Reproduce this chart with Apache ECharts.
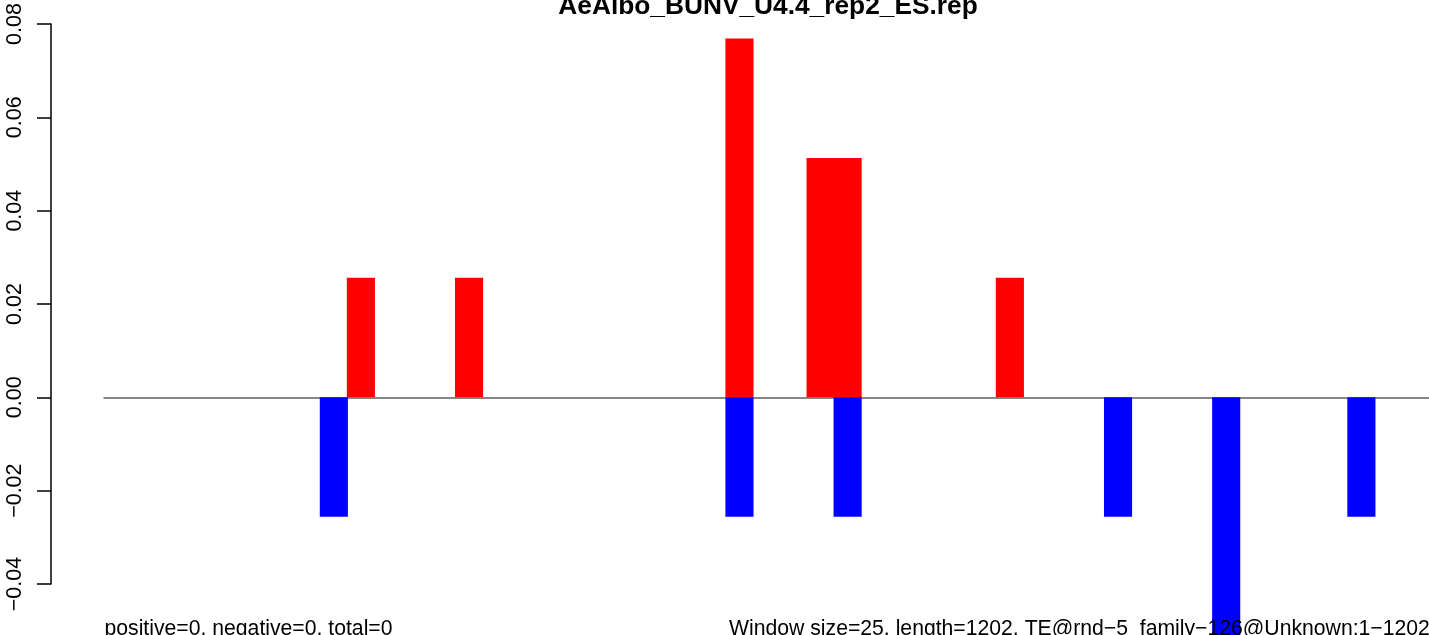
<!DOCTYPE html>
<html>
<head>
<meta charset="utf-8">
<script src="https://cdn.jsdelivr.net/npm/echarts@6/dist/echarts.min.js"></script>
<style>
  html, body { margin: 0; padding: 0; background: #ffffff; }
  #chart { width: 1429px; height: 635px; }
</style>
</head>
<body>
<div id="chart"></div>
<script>
// Window start positions (window size 25 over length 1202)
var categories = [
  0, 25, 50, 75, 100, 125, 150, 175, 200, 225,
  250, 275, 300, 325, 350, 375, 400, 425, 450, 475,
  500, 525, 550, 575, 600, 625, 650, 675, 700, 725,
  750, 775, 800, 825, 850, 875, 900, 925, 950, 975,
  1000, 1025, 1050, 1075, 1100, 1125, 1150, 1175, 1200
];
var positiveValues = [
  0, 0, 0, 0, 0, 0, 0, 0, 0, 0.0256,
  0, 0, 0, 0.0256, 0, 0, 0, 0, 0, 0,
  0, 0, 0, 0.0769, 0, 0, 0.0513, 0.0513, 0, 0,
  0, 0, 0, 0.0256, 0, 0, 0, 0, 0, 0,
  0, 0, 0, 0, 0, 0, 0, 0, 0
];
var negativeValues = [
  0, 0, 0, 0, 0, 0, 0, 0, -0.0256, 0,
  0, 0, 0, 0, 0, 0, 0, 0, 0, 0,
  0, 0, 0, -0.0256, 0, 0, 0, -0.0256, 0, 0,
  0, 0, 0, 0, 0, 0, 0, -0.0256, 0, 0,
  0, -0.0513, 0, 0, 0, 0, -0.0256, 0, 0
];
var yTicks = [-0.04, -0.02, 0.00, 0.02, 0.04, 0.06, 0.08];
var titleText = 'AeAlbo_BUNV_U4.4_rep2_ES.rep';
var leftNote = 'positive=0, negative=0, total=0';
var rightNote = 'Window size=25, length=1202, TE@rnd\u22125_family\u2212126@Unknown:1\u22121202';

function nonZero(arr) {
  return arr.map(function (v) { return v === 0 ? '-' : v; });
}

var FONT = '"Liberation Sans", Arial, Helvetica, sans-serif';
var chart = echarts.init(document.getElementById('chart'), null, { renderer: 'canvas' });
chart.setOption({
  animation: false,
  backgroundColor: '#ffffff',
  grid: { left: 104, top: 24, width: 1330, height: 560, containLabel: false },
  xAxis: {
    type: 'category',
    data: categories,
    boundaryGap: true,
    axisLine: { show: true, onZero: true, lineStyle: { color: '#606060', width: 1.5 } },
    axisTick: { show: false },
    axisLabel: { show: false },
    splitLine: { show: false }
  },
  yAxis: {
    type: 'value',
    min: yTicks[0],
    max: yTicks[yTicks.length - 1],
    interval: 0.02,
    offset: 53,
    axisLine: { show: true, lineStyle: { color: '#000000', width: 1.5 } },
    axisTick: { show: true, length: 14, inside: false, lineStyle: { color: '#000000', width: 1.5 } },
    splitLine: { show: false },
    axisLabel: {
      show: true,
      rotate: 90,
      margin: 25,
      color: '#000000',
      fontFamily: FONT,
      fontSize: 21.5,
      formatter: function (v) {
        var s = v.toFixed(2);
        return s.replace('-', '\u2212');
      }
    }
  },
  series: [
    {
      type: 'bar',
      name: 'positive',
      data: nonZero(positiveValues),
      barWidth: '104%',
      barGap: '-100%',
      clip: false,
      itemStyle: { color: '#ff0000' }
    },
    {
      type: 'bar',
      name: 'negative',
      data: nonZero(negativeValues),
      barWidth: '104%',
      barGap: '-100%',
      clip: false,
      itemStyle: { color: '#0000ff' }
    }
  ],
  graphic: [
    {
      type: 'text', x: 768, y: 7, z: 100,
      style: { text: titleText, fill: '#000', font: 'bold 26.3px ' + FONT, align: 'center', verticalAlign: 'middle' }
    },
    {
      type: 'text', x: 104.5, y: 629.5, z: 100,
      style: { text: leftNote, fill: '#000', font: '21.2px ' + FONT, align: 'left', verticalAlign: 'middle' }
    },
    {
      type: 'text', x: 729, y: 629.5, z: 100,
      style: { text: rightNote, fill: '#000', font: '21.2px ' + FONT, align: 'left', verticalAlign: 'middle' }
    }
  ]
});
</script>
</body>
</html>
